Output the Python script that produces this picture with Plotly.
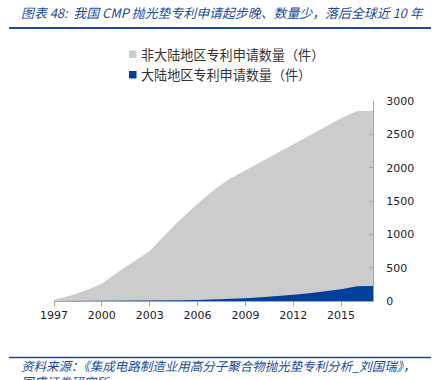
import plotly.graph_objects as go

years = list(range(1997, 2018))
non_mainland = [20, 80, 160, 260, 430, 590, 750, 1000, 1240, 1460, 1660, 1830, 1960,
                2100, 2230, 2360, 2480, 2610, 2740, 2850, 2850]
mainland = [0, 0, 0, 0, 2, 3, 5, 8, 10, 15, 22, 30, 40, 55, 72, 95, 118, 150, 175, 220, 225]
series_names = ["非大陆地区专利申请数量（件）", "大陆地区专利申请数量（件）"]
title_text = "图表 48:  我国 CMP 抛光垫专利申请起步晚、数量少，落后全球近 10 年"
source_line1 = "资料来源：《集成电路制造业用高分子聚合物抛光垫专利分析_刘国瑞》，"
source_line2 = "国盛证券研究所"

W, H = 441, 380
L, R, T, B = 54, 373, 101, 300.7
GRAY = "#CCCCCC"
BLUE = "#013F98"
TBLUE = "#1A4A9A"
CJK = "Noto Sans CJK SC"


def px(x):
    return (x - L) / (R - L)


def py(y):
    return (B - y) / (B - T)


fig = go.Figure()
fig.add_trace(go.Scatter(x=years, y=non_mainland, name=series_names[0], mode="lines",
                         line=dict(width=0, color=GRAY), fill="tozeroy", fillcolor=GRAY,
                         showlegend=False, hoverinfo="skip"))
fig.add_trace(go.Scatter(x=years, y=mainland, name=series_names[1], mode="lines",
                         line=dict(width=0, color=BLUE), fill="tozeroy", fillcolor=BLUE,
                         showlegend=False, hoverinfo="skip"))

shapes = [
    dict(type="line", xref="paper", yref="paper", x0=px(9), x1=px(431), y0=py(28), y1=py(28),
         line=dict(color=TBLUE, width=2)),
    dict(type="line", xref="paper", yref="paper", x0=px(9), x1=px(431), y0=py(357), y1=py(357),
         line=dict(color=TBLUE, width=1.5)),
    dict(type="rect", xref="paper", yref="paper", x0=px(129), x1=px(136.5), y0=py(58), y1=py(50.5),
         fillcolor=GRAY, line=dict(width=0)),
    dict(type="rect", xref="paper", yref="paper", x0=px(129), x1=px(136.5), y0=py(78.5), y1=py(71),
         fillcolor=BLUE, line=dict(width=0)),
]

annotations = [
    dict(text=title_text, xref="paper", yref="paper", x=px(19), y=py(13), xanchor="left",
         yanchor="middle", showarrow=False,
         font=dict(family=CJK, size=12.9, color=TBLUE, style="italic")),
    dict(text=series_names[0], xref="paper", yref="paper", x=px(139), y=py(54.5), xanchor="left",
         yanchor="middle", showarrow=False, font=dict(family=CJK, size=13.1, color="#333333")),
    dict(text=series_names[1], xref="paper", yref="paper", x=px(139), y=py(75), xanchor="left",
         yanchor="middle", showarrow=False, font=dict(family=CJK, size=13.1, color="#333333")),
    dict(text=source_line1, xref="paper", yref="paper", x=px(19), y=py(365.5), xanchor="left",
         yanchor="middle", showarrow=False,
         font=dict(family=CJK, size=12.5, color=TBLUE, style="italic")),
    dict(text=source_line2, xref="paper", yref="paper", x=px(19), y=py(381), xanchor="left",
         yanchor="middle", showarrow=False,
         font=dict(family=CJK, size=12.5, color=TBLUE, style="italic")),
]

fig.update_layout(
    width=W, height=H,
    margin=dict(l=L, r=W - R, t=T, b=H - B, pad=0),
    paper_bgcolor="white", plot_bgcolor="white",
    showlegend=False,
    shapes=shapes, annotations=annotations,
    font=dict(family="DejaVu Sans", size=11, color="#222222"),
)
fig.update_xaxes(range=[1997, 2017], tickmode="linear", tick0=1997, dtick=3,
                 showgrid=False, zeroline=False, showline=True, linecolor="#A6A6A6", linewidth=1,
                 ticks="outside", ticklen=4, tickcolor="#A6A6A6",
                 tickfont=dict(family="DejaVu Sans", size=11, color="#222222"))
fig.update_yaxes(range=[0, 3000], tickmode="linear", tick0=0, dtick=500, side="right",
                 showgrid=False, zeroline=False, showline=True, linecolor="#A6A6A6", linewidth=1,
                 ticks="inside", ticklen=4, tickcolor="#A6A6A6", ticklabelstandoff=10,
                 tickfont=dict(family="DejaVu Sans", size=11, color="#222222"))

fig.write_html("out.html", config={"displayModeBar": False},
               post_script="document.body.style.margin='0px';")
